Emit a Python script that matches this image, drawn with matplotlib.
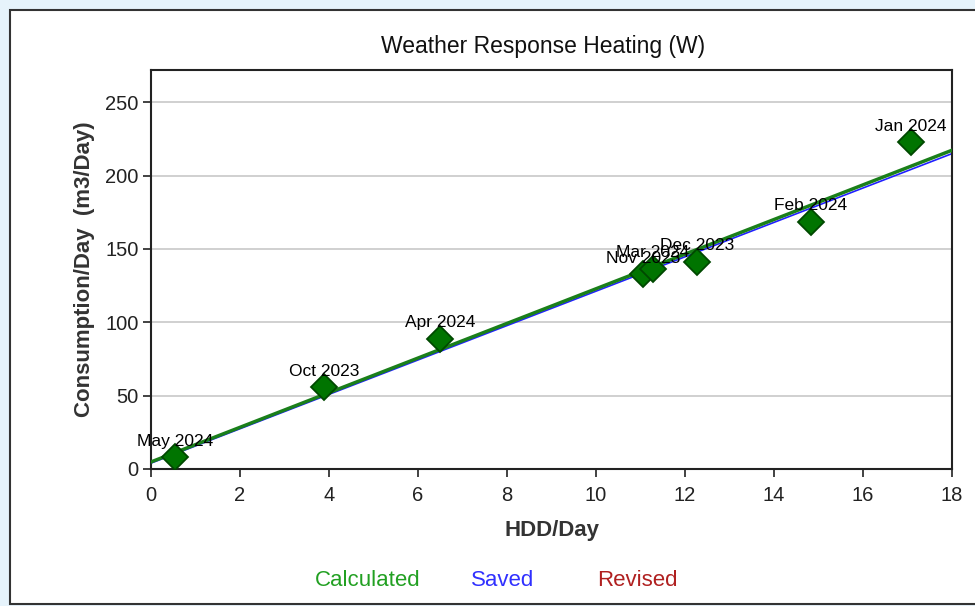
import matplotlib.pyplot as plt
from matplotlib.patches import Rectangle

plt.rcParams['font.family'] = ['Liberation Sans', 'DejaVu Sans']

months = ['May 2024', 'Oct 2023', 'Apr 2024', 'Nov 2023', 'Mar 2024',
          'Dec 2023', 'Feb 2024', 'Jan 2024']
hdd = [0.54, 3.89, 6.49, 11.06, 11.28, 12.27, 14.83, 17.08]
consumption = [8.2, 56.0, 88.8, 133.0, 136.6, 141.4, 168.7, 222.7]

calc_x = [0, 18]
calc_y = [4.8, 217.3]
saved_x = [0, 18]
saved_y = [4.0, 215.0]

fig = plt.figure(figsize=(9.75, 6.06), dpi=100)
fig.patch.set_facecolor('#e6f3fb')
# white panel behind the chart
fig.patches.append(Rectangle((10 / 975, 2 / 606), 1.0, 594 / 606, transform=fig.transFigure,
                             facecolor='white', edgecolor='#333333', linewidth=1.5, zorder=-5))

ax = fig.add_axes([151 / 975, (606 - 469) / 606, (952 - 151) / 975, (469 - 70) / 606])
ax.set_zorder(1)
ax.set_facecolor('white')

ax.plot(saved_x, saved_y, color='#2020ff', linewidth=1.2, zorder=2)
ax.plot(calc_x, calc_y, color='#1a7f1a', linewidth=2.5, zorder=3)
ax.plot(hdd, consumption, linestyle='none', marker='D', markersize=13,
        markerfacecolor='#007400', markeredgecolor='#004800', markeredgewidth=1.3, zorder=4)

for m, x, y in zip(months, hdd, consumption):
    ax.annotate(m, (x, y), xytext=(0, 6), textcoords='offset points',
                ha='center', va='bottom', fontsize=12.5, color='black', zorder=5)

ax.set_xlim(0, 18)
ax.set_ylim(0, 272)
ax.set_xticks(range(0, 19, 2))
ax.set_yticks(range(0, 251, 50))
ax.yaxis.grid(True, color='#c8c8c8', linewidth=1.2)
ax.set_axisbelow(True)
ax.tick_params(direction='out', length=6, width=1.2, labelsize=14.5, colors='#222222', pad=3)
ax.tick_params(axis='x', pad=6)
for s in ax.spines.values():
    s.set_linewidth(1.5)
    s.set_color('#222222')

ax.set_xlabel('HDD/Day', fontsize=16, fontweight='bold', color='#333333', labelpad=11)
ax.set_ylabel('Consumption/Day  (m3/Day)', fontsize=16, fontweight='bold', color='#333333', labelpad=7)
fig.text(543 / 975, 1 - 46 / 606, 'Weather Response Heating (W)', ha='center', va='center',
         fontsize=16.5, color='#111111')

fig.text(368 / 975, 1 - 581 / 606, 'Calculated', ha='center', va='center', fontsize=16, color='#22a022')
fig.text(503 / 975, 1 - 581 / 606, 'Saved', ha='center', va='center', fontsize=16, color='#3030ff')
fig.text(637 / 975, 1 - 581 / 606, 'Revised', ha='center', va='center', fontsize=16, color='#b02020')

fig.savefig('out.png', dpi=100, facecolor=fig.get_facecolor())
